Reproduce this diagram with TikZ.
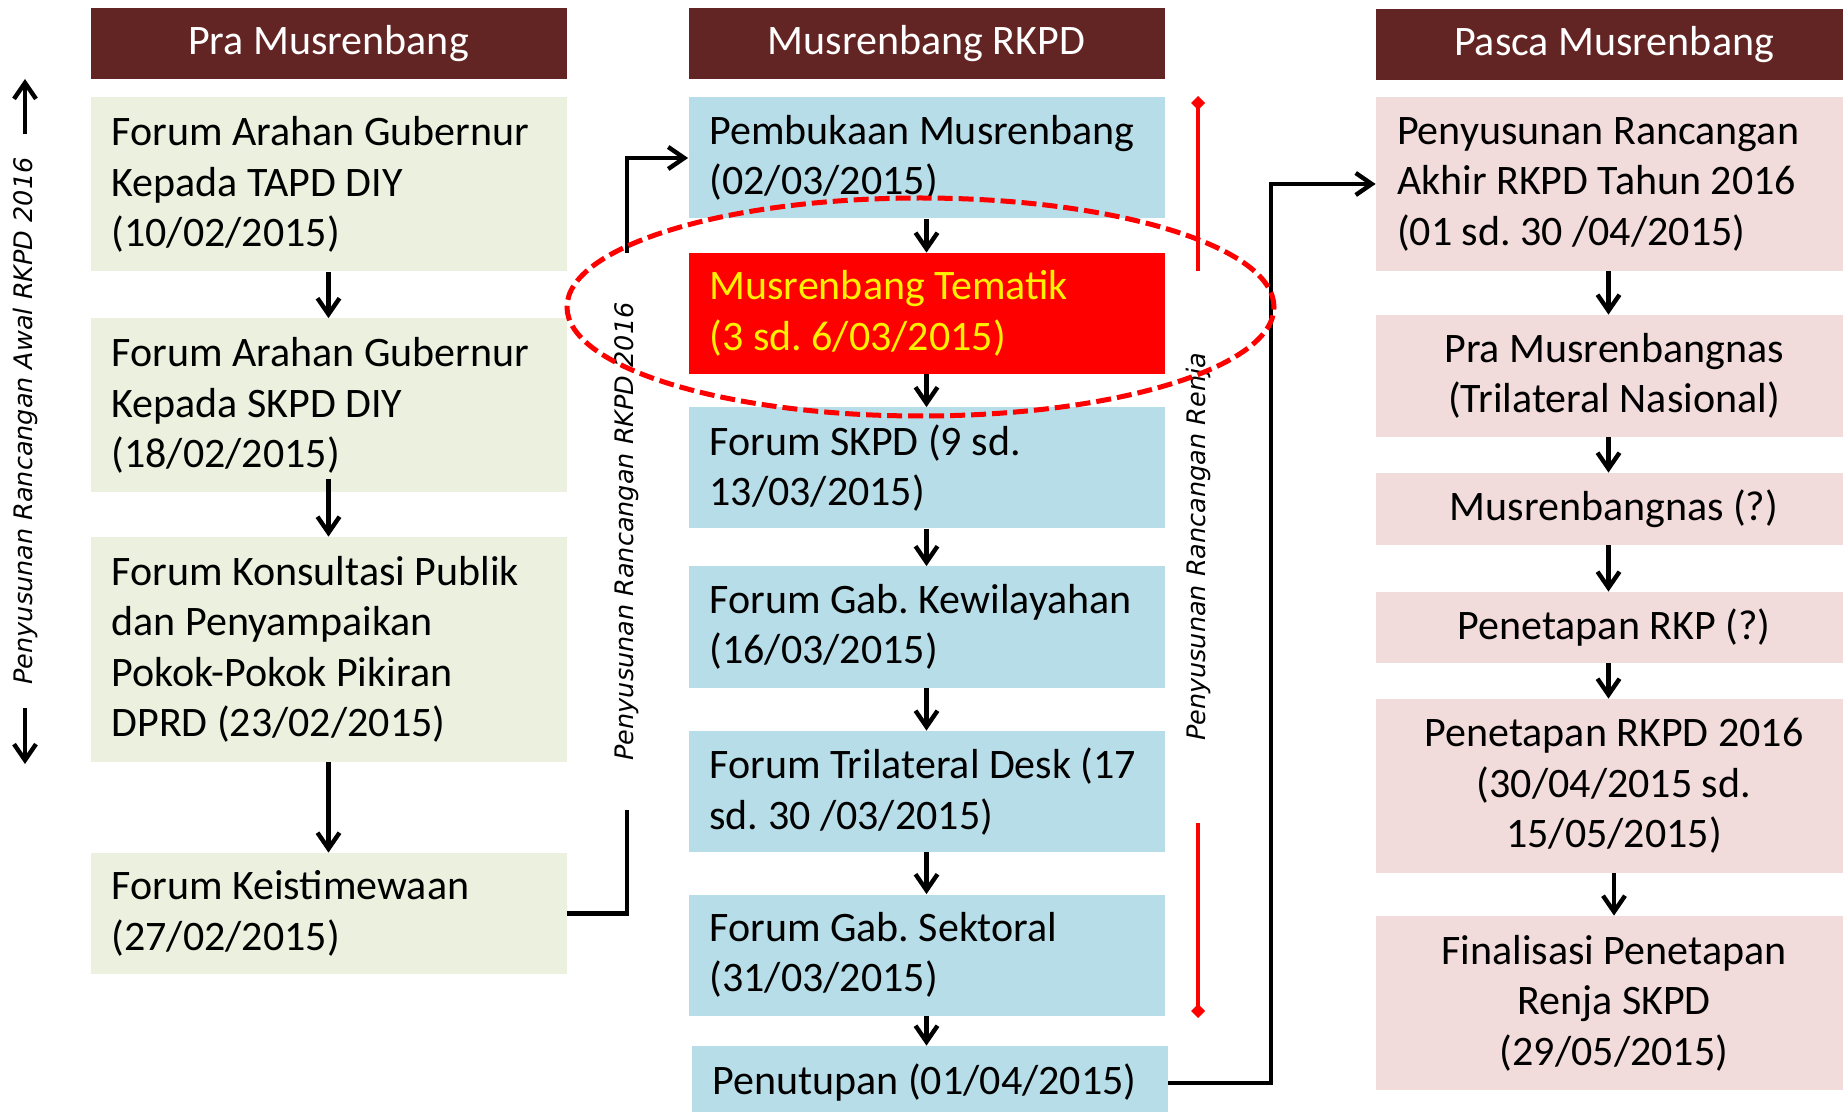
\documentclass[tikz,border=0pt]{standalone}
\usepackage{fontspec}
\setmainfont{Carlito}
\newfontfamily\sideFont{DejaVu Sans Oblique}
\usepackage{tikz}
\usetikzlibrary{positioning,arrows.meta}
\definecolor{headBrown}{HTML}{632523}
\definecolor{praGreen}{HTML}{EBF1DE}
\definecolor{rkpdBlue}{HTML}{B7DEE8}
\definecolor{pascaPink}{HTML}{F2DCDB}
\newcommand\colWidth{238pt}
\newcommand\boxFont{\fontsize{21}{25.25}\selectfont}
\newcommand\sideText{\sideFont\fontsize{12.75}{15}\selectfont}
\frenchspacing
\tikzset{
		headStyle/.style  = {fill=headBrown, text=white, minimum width=\colWidth, minimum height=35.5pt, inner sep=0pt, font=\boxFont},
		stageStyle/.style = {minimum width=\colWidth, text width=217pt, inner xsep=10.5pt, inner ysep=0pt, align=flush left, font=\boxFont},
		praStage/.style   = {stageStyle, fill=praGreen},
		rkpdStage/.style  = {stageStyle, fill=rkpdBlue},
		pascaStage/.style = {stageStyle, fill=pascaPink, align=flush center},
		flowStyle/.style  = {line width=2.2pt, -{Straight Barb[length=8pt,width=11pt]}},
		spanStyle/.style  = {red, line width=2.2pt, -{Diamond[length=7pt,width=7pt]}},
		sideLabel/.style  = {rotate=90, font=\sideText, inner sep=0pt},
		ringStyle/.style  = {red, line width=2.5pt, dash pattern=on 7.5pt off 3pt}
}

\begin{document}
\begin{tikzpicture}[x=0.5pt, y=-0.5pt]
  \useasboundingbox (0,0) rectangle (1843,1112);

  % Column headers
  \node [headStyle] (praHead)   at (328.5,43.5) {Pra Musrenbang};
  \node [headStyle] (rkpdHead)  at (926.5,43.5) {Musrenbang RKPD};
  \node [headStyle] (pascaHead) at (1614,44.5)  {Pasca Musrenbang};

  % Pra Musrenbang
  \node [praStage, minimum height=87pt]   (pra1) at (328.5,184.5) {Forum Arahan Gubernur\\Kepada TAPD DIY\\(10/02/2015)};
  \node [praStage, minimum height=87pt]   (pra2) at (328.5,405.5) {Forum Arahan Gubernur\\Kepada SKPD DIY\\(18/02/2015)};
  \node [praStage, minimum height=112.5pt] (pra3) at (328.5,649.5) {Forum Konsultasi Publik\\dan Penyampaikan\\Pokok-Pokok Pikiran\\DPRD (23/02/2015)};
  \node [praStage, minimum height=60.5pt] (pra4) at (328.5,913.5) {Forum Keistimewaan\\(27/02/2015)};

  % Musrenbang RKPD
  \node [rkpdStage, minimum height=60.5pt] (rkpd1) at (926.5,158)   {Pembukaan~Musrenbang\\(02/03/2015)};
  \node [rkpdStage, minimum height=60.5pt, fill=red, text=yellow] (rkpd2) at (926.5,313.5) {Musrenbang Tematik\\(3 sd. 6/03/2015)};
  \node [rkpdStage, minimum height=60.5pt] (rkpd3) at (926.5,468)   {Forum SKPD (9 sd.\\13/03/2015)};
  \node [rkpdStage, minimum height=60.5pt] (rkpd4) at (926.5,627)   {Forum~Gab.~Kewilayahan\\(16/03/2015)};
  \node [rkpdStage, minimum height=60.5pt] (rkpd5) at (926.5,791.5) {Forum~Trilateral~Desk~(17\\sd. 30 /03/2015)};
  \node [rkpdStage, minimum height=60.5pt] (rkpd6) at (926.5,955)   {Forum Gab. Sektoral\\(31/03/2015)};
  \node [rkpdStage, minimum height=37pt]   (rkpd7) at (929.5,1083)  {Penutupan~(01/04/2015)};

  % Pasca Musrenbang
  \node [pascaStage, minimum height=87pt, align=flush left] (pasca1) at (1614,184) {Penyusunan~Rancangan\\Akhir~RKPD~Tahun~2016\\(01 sd. 30 /04/2015)};
  \node [pascaStage, minimum height=61pt] (pasca2) at (1614,376)   {Pra Musrenbangnas\\(Trilateral Nasional)};
  \node [pascaStage, minimum height=36pt] (pasca3) at (1614,509)   {Musrenbangnas (?)};
  \node [pascaStage, minimum height=35.5pt] (pasca4) at (1614,627.5) {Penetapan RKP (?)};
  \node [pascaStage, minimum height=87pt] (pasca5) at (1614,786)   {Penetapan RKPD 2016\\(30/04/2015 sd.\\15/05/2015)};
  \node [pascaStage, minimum height=87pt] (pasca6) at (1614,1003)  {Finalisasi Penetapan\\Renja SKPD\\(29/05/2015)};

  % Arrows inside the columns
  \foreach \a/\b in {pra1/pra2,pra3/pra4,rkpd1/rkpd2,rkpd2/rkpd3,rkpd3/rkpd4,rkpd4/rkpd5,rkpd5/rkpd6,rkpd6/rkpd7}
    \draw [flowStyle] (\a.south) -- (\a.south |- \b.north);
  \draw [flowStyle] ([yshift=7pt]pra2.south) -- (pra2.south |- pra3.north);
  \foreach \a/\b/\s in {pasca1/pasca2/-2.75pt,pasca2/pasca3/-2.75pt,pasca3/pasca4/-2.75pt,pasca4/pasca5/-2.75pt,pasca5/pasca6/0pt}
    \draw [flowStyle] ([xshift=\s]\a.south) -- ([xshift=\s]\a.south |- \b.north);

  % Side notes
  \node [sideLabel, inner xsep=11.5pt] (awal) at (25,421) {Penyusunan Rancangan Awal RKPD 2016};
  \coordinate (awalTop) at (25,79);
  \coordinate (awalBot) at (25,764);
  \draw [flowStyle] (awal.east) -- (awalTop);
  \draw [flowStyle] (awal.west) -- (awalBot);

  \node [sideLabel, inner xsep=24.5pt] (rkpdNote) at (627,531.5) {Penyusunan Rancangan RKPD 2016};
  \draw [line width=2.2pt] (pra4.east) -| (rkpdNote.west);
  \draw [flowStyle] (rkpdNote.east) |- (rkpd1.west);

  \node [sideLabel, inner xsep=41pt] (renja) at (1198,547) {Penyusunan Rancangan Renja};
  \coordinate (renjaTop) at (1198,96);
  \coordinate (renjaBot) at (1198,1018);
  \draw [spanStyle] (renja.east) -- (renjaTop);
  \draw [spanStyle] (renja.west) -- (renjaBot);

  % Penutupan to Pasca Musrenbang
  \coordinate (pascaJoint) at (1271,600);
  \draw [flowStyle] (rkpd7.east) -| (pascaJoint) |- (pasca1.west);

  % Musrenbang Tematik highlight
  \draw [ringStyle] (920.5,307) ellipse [x radius=176.75pt, y radius=54.5pt];
\end{tikzpicture}
\end{document}
